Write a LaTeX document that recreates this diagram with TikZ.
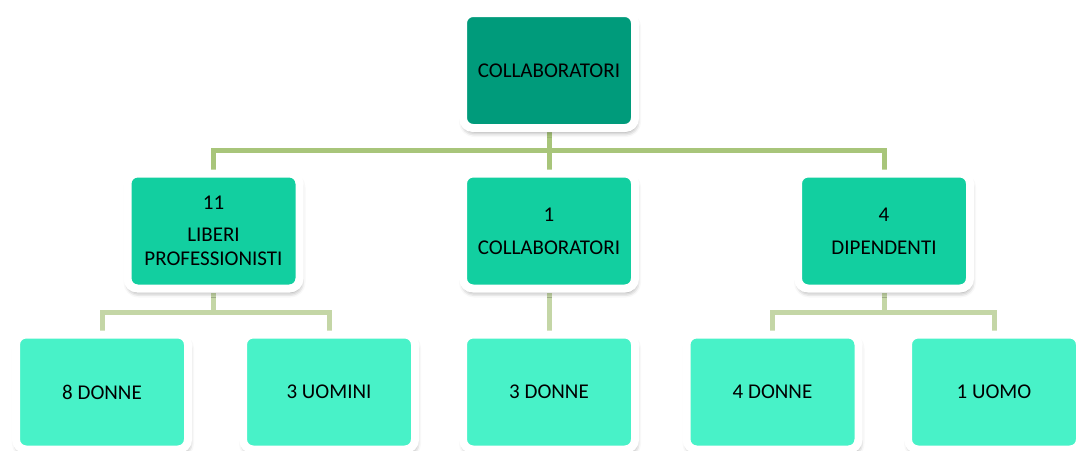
\documentclass[tikz,border=0pt]{standalone}
\usepackage{fontspec}
\setmainfont{Carlito}
\usetikzlibrary{shadows.blur,backgrounds}
\definecolor{rootteal}{RGB}{0,155,123}
\definecolor{midteal}{RGB}{18,207,160}
\definecolor{leafteal}{RGB}{72,242,200}
\definecolor{linkdark}{RGB}{168,197,122}
\definecolor{linklight}{RGB}{196,214,166}

\begin{document}
\begin{tikzpicture}[x=1pt,y=1pt,
  card/.style={draw=white,line width=8pt,rounded corners=10pt,
    minimum width=172pt,minimum height=115pt,inner sep=0pt,align=center,
    font=\fontsize{21}{24}\selectfont,
    blur shadow={shadow xshift=1pt,shadow yshift=-4pt,shadow blur radius=5pt,shadow opacity=45}},
  link/.style={line width=5pt}]
  \useasboundingbox (0,0) rectangle (1076,-450);
  \node[card,fill=rootteal] (root) at (549,-70.5) {COLLABORATORI};
  \node[card,fill=midteal] (liberi) at (213.5,-231) {11\\[8pt]LIBERI\\PROFESSIONISTI};
  \node[card,fill=midteal] (collab) at (549,-231) {1\\[9pt]COLLABORATORI};
  \node[card,fill=midteal] (dipend) at (884,-231) {4\\[9pt]DIPENDENTI};
  \node[card,fill=leafteal] (donneA) at (102,-392) {8 DONNE};
  \node[card,fill=leafteal] (uominiA) at (329,-392) {3 UOMINI};
  \node[card,fill=leafteal] (donneB) at (549,-392) {3 DONNE};
  \node[card,fill=leafteal] (donneC) at (772.5,-392) {4 DONNE};
  \node[card,fill=leafteal] (uomoC) at (994,-392) {1 UOMO};
  \coordinate (bus) at (549,-150.5);
  \coordinate (busL) at (213.5,-312.5);
  \coordinate (busR) at (884,-312.5);
  \begin{scope}[on background layer]
    \draw[link,linkdark] (root.south) -- (collab.north);
    \draw[link,linkdark] (liberi.north) |- (bus) -| (dipend.north);
    \draw[link,linklight] (liberi.south) -- (busL);
    \draw[link,linklight] (donneA.north) |- (busL) -| (uominiA.north);
    \draw[link,linklight] (collab.south) -- (donneB.north);
    \draw[link,linklight] (dipend.south) -- (busR);
    \draw[link,linklight] (donneC.north) |- (busR) -| (uomoC.north);
  \end{scope}
\end{tikzpicture}
\end{document}
